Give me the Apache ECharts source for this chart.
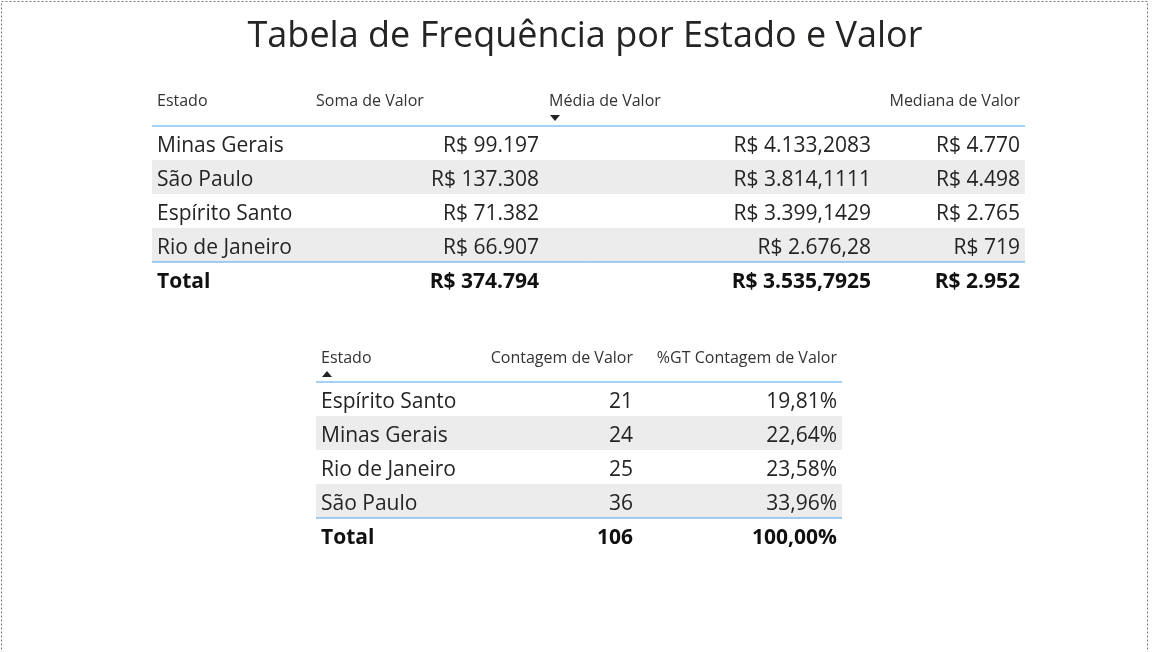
<!DOCTYPE html>
<html><head><meta charset="utf-8">
<script src="https://cdn.jsdelivr.net/npm/echarts@6/dist/echarts.min.js"></script>
<style>html,body{margin:0;padding:0;background:#fff}#c{width:1156px;height:652px}</style>
</head><body><div id="c"></div>
<script>
var titulo = 'Tabela de Frequência por Estado e Valor';
var estados1 = ['Minas Gerais', 'São Paulo', 'Espírito Santo', 'Rio de Janeiro'];
var soma = ['R$ 99.197', 'R$ 137.308', 'R$ 71.382', 'R$ 66.907'];
var media = ['R$ 4.133,2083', 'R$ 3.814,1111', 'R$ 3.399,1429', 'R$ 2.676,28'];
var mediana = ['R$ 4.770', 'R$ 4.498', 'R$ 2.765', 'R$ 719'];
var total1 = ['Total', 'R$ 374.794', 'R$ 3.535,7925', 'R$ 2.952'];
var cab1 = ['Estado', 'Soma de Valor', 'Média de Valor', 'Mediana de Valor'];

var estados2 = ['Espírito Santo', 'Minas Gerais', 'Rio de Janeiro', 'São Paulo'];
var contagem = [21, 24, 25, 36];
var pct = ['19,81%', '22,64%', '23,58%', '33,96%'];
var total2 = ['Total', '106', '100,00%'];
var cab2 = ['Estado', 'Contagem de Valor', '%GT Contagem de Valor'];

var fonte = '"Open Sans", "Noto Sans", sans-serif';
var els = [];
function txt(x, y, s, align, size, bold, color) {
    els.push({type: 'text', x: x, y: y, style: {text: String(s), x: 0, y: 0, textAlign: align,
        textVerticalAlign: 'middle', fontSize: size, fontWeight: bold ? 'bold' : 'normal',
        fontFamily: fonte, fill: color || '#252423'}});
}
function linha(x1, x2, y) {
    els.push({type: 'line', shape: {x1: x1, y1: y, x2: x2, y2: y}, style: {stroke: '#4aa3e8', lineWidth: 1}});
}
function faixa(x1, x2, y, h) {
    els.push({type: 'rect', shape: {x: x1, y: y, width: x2 - x1, height: h}, style: {fill: '#ececec'}});
}
function tabela(x1, x2, yCab, yLinha, cols, cab, cabAlign, linhas, total) {
    var rh = 34;
    for (var i = 0; i < linhas.length; i++) {
        if (i % 2 == 1) faixa(x1, x2, yLinha + i * rh, rh);
    }
    linha(x1, x2, yLinha);
    linha(x1, x2, yLinha + linhas.length * rh);
    for (var c = 0; c < cab.length; c++) {
        txt(cabAlign[c][0], yCab, cab[c], cabAlign[c][1], 16, false, '#333');
    }
    for (var i = 0; i < linhas.length; i++) {
        for (var c = 0; c < cols.length; c++) {
            txt(cols[c][0], yLinha + 20 + i * rh, linhas[i][c], cols[c][1], 21, false);
        }
    }
    var yT = yLinha + linhas.length * rh + 20;
    for (var c = 0; c < cols.length; c++) {
        txt(cols[c][0], yT, total[c], cols[c][1], 21, true, '#111');
    }
}

var linhas1 = [];
for (var i = 0; i < estados1.length; i++) linhas1.push([estados1[i], soma[i], media[i], mediana[i]]);
tabela(152, 1025, 101, 126,
    [[157, 'left'], [539, 'right'], [871, 'right'], [1020, 'right']],
    cab1, [[157, 'left'], [316, 'left'], [549, 'left'], [1020, 'right']], linhas1, total1);
els.push({type: 'polygon', shape: {points: [[550, 115], [560, 115], [555, 121]]}, style: {fill: '#252423'}});

var linhas2 = [];
for (var i = 0; i < estados2.length; i++) linhas2.push([estados2[i], contagem[i], pct[i]]);
tabela(316, 842, 358, 382,
    [[321, 'left'], [633, 'right'], [837, 'right']],
    cab2, [[321, 'left'], [633, 'right'], [837, 'right']], linhas2, total2);
els.push({type: 'polygon', shape: {points: [[322, 377], [332, 377], [327, 371]]}, style: {fill: '#252423'}});

els.push({type: 'rect', shape: {x: 1.5, y: 1.5, width: 1146, height: 660},
    style: {fill: null, stroke: '#777', lineWidth: 1, lineDash: [2, 2]}});

var chart = echarts.init(document.getElementById('c'));
chart.setOption({
    title: {text: titulo, left: 580, top: 14, textAlign: 'center',
        textStyle: {fontSize: 36, fontWeight: 'normal', fontFamily: fonte, color: '#252423'}},
    graphic: els
});
</script></body></html>
